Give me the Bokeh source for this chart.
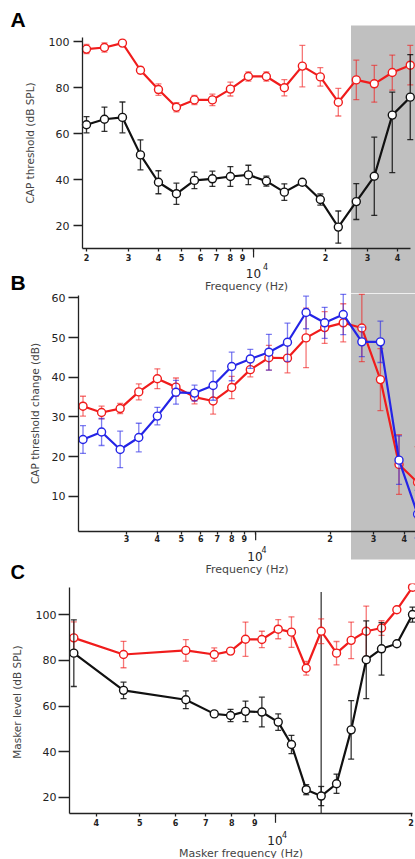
from bokeh.plotting import figure
from bokeh.models import Range1d, FixedTicker, BoxAnnotation, Label
from bokeh.layouts import column
from bokeh.embed import file_html
from bokeh.resources import INLINE

# ---------------- data ----------------
# Panels A and B: probe frequency (Hz)
freq_ab = [2000, 2378, 2828, 3364, 4000, 4757, 5657, 6727, 8000, 9514,
           11314, 13454, 16000, 19027, 22627, 26909, 32000, 38055, 45255]
# A: CAP threshold (dB SPL)
a_exposed = [96.7, 97.4, 99.3, 87.5, 79.1, 71.4, 74.6, 74.6, 79.3, 84.8,
             84.8, 79.9, 89.3, 84.6, 73.6, 83.3, 81.6, 86.5, 89.7]
a_exposed_err = [2, 2, 1, 1.5, 2.5, 2, 2, 2.5, 3, 2,
                 2, 3.5, 9, 4, 6, 8.6, 8, 7.6, 8.6]
a_control = [63.8, 66.2, 67.0, 50.7, 38.8, 33.8, 39.6, 40.3, 41.3, 42.0,
             39.3, 34.5, 38.8, 31.3, 19.3, 30.4, 41.4, 68.0, 75.8]
a_control_err_up = [3.5, 5.3, 6.7, 6.5, 5, 4.6, 3.6, 3.3, 4.3, 4.2,
                    2.2, 3.6, 1, 2.4, 7, 7.8, 17, 10, 18.5]
a_control_err_down = [3.5, 5.3, 6.7, 6.5, 5, 4.6, 3.6, 3.3, 4.3, 4.2,
                      2.2, 3.6, 1, 2.4, 7, 7.8, 17, 25, 18.5]
# B: CAP threshold change (dB)
b_red = [32.7, 31.1, 32.1, 36.3, 39.6, 37.5, 35.0, 34.0, 37.4, 41.9,
         44.9, 44.8, 49.9, 52.5, 53.7, 52.4, 39.4, 18.0, 13.5]
b_red_err = [2.5, 1.6, 1.3, 2, 2.5, 2.3, 1.7, 3.3, 2.8, 1.8,
             3.1, 3.7, 7.5, 4, 4.8, 8.5, 7.8, 7.5, 9]
b_blue = [24.3, 26.2, 21.8, 24.8, 30.2, 36.2, 36.0, 37.9, 42.7, 44.6,
          46.3, 48.8, 56.3, 53.7, 55.8, 48.9, 48.9, 19.1, 5.5]
b_blue_err = [3.5, 3.4, 4.6, 3.6, 2.2, 3, 2, 3.7, 3.6, 2.4,
              4.5, 4.8, 4.1, 3.9, 5.1, 3.7, 5.2, 6.1, 6]
# C: masker level (dB SPL) vs masker frequency (Hz)
freq_c = [3568, 4600, 6324, 7313, 7948, 8579, 9327, 10140, 10850, 11700,
          12630, 13660, 14720, 15900, 17190, 18590, 20140]
c_red = [89.9, 82.6, 84.4, 82.6, 84.1, 89.3, 89.2, 93.7, 92.4, 76.6,
         92.8, 83.2, 88.8, 92.8, 94.2, 102.2, 112.1]
c_red_err = [7, 5.8, 4.7, 2.9, 1, 7.5, 3.6, 4.2, 6.7, 3,
             5.4, 5.1, 8, 11, 3.2, 0, 0]
c_black = [83.2, 66.9, 62.8, 56.6, 55.9, 57.7, 57.4, 53.0, 43.2, 23.4,
           20.6, 26.0, 49.6, 80.3, 85.1, 87.3, 100.1]
c_black_err = [14.6, 3.6, 3.9, 0, 2.7, 4.5, 6.5, 3.6, 4, 2.2,
               4.2, 4.2, 12.8, 17, 11.5, 0, 3.3]
probe_freq = 12630
probe_top = 110

# ticks
a_xticks = [2000, 3000, 4000, 5000, 6000, 7000, 8000, 9000, 10000, 20000, 30000, 40000]
b_xticks = [3000, 4000, 5000, 6000, 7000, 8000, 9000, 10000, 20000, 30000, 40000]
c_xticks = [4000, 5000, 6000, 7000, 8000, 9000, 10000, 20000]
a_yticks = [20, 40, 60, 80, 100]
b_yticks = [10, 20, 30, 40, 50, 60]
c_yticks = [20, 40, 60, 80, 100]

# ---------------- page geometry (pixels) ----------------
W = 415
GEO = {
    "A": dict(f0=2000, fx0=86, ppd=239, v0=100, vy0=41, ppu=2.3, top=0, h=293),
    "B": dict(f0=3000, fx0=126, ppd=247, v0=60, vy0=297.3, ppu=3.97, top=293, h=290),
    "C": dict(f0=10000, fx0=275, ppd=450.6, v0=100, vy0=614.3, ppu=2.283, top=583, h=275),
}


def fx(g, px):
    return g["f0"] * 10 ** ((px - g["fx0"]) / g["ppd"])


def vy(g, py):
    return g["v0"] - (py - g["vy0"]) / g["ppu"]


RED = "#f01c1c"
BLUE = "#2424e6"
BLACK = "#111111"
GRAY = "#c0c0c0"
FONT = "DejaVu Sans"


def make_fig(g):
    p = figure(width=W, height=g["h"], x_axis_type="log",
               x_range=Range1d(fx(g, 0), fx(g, W)),
               y_range=Range1d(vy(g, g["top"] + g["h"]), vy(g, g["top"])),
               output_backend="svg", toolbar_location=None,
               min_border=0, min_border_left=0, min_border_right=0,
               min_border_top=0, min_border_bottom=0)
    p.title.visible = False
    p.xgrid.visible = False
    p.ygrid.visible = False
    p.outline_line_color = None
    p.background_fill_color = "white"
    p.border_fill_color = "white"
    return p


def xlabel_map(ticks):
    return {t: ("" if t == 10000 else str(t)[0]) for t in ticks}


def style_axes(p, g, xticks, yticks, ylabel, xlabel, x_axis_py, y_axis_px, x_end_px, y_top_py,
               ystand, xstand, ytick_out, ylab_std, xlab_std=2):
    for ax in (p.xaxis[0], p.yaxis[0]):
        ax.axis_line_color = "#222222"
        ax.axis_line_width = 1.3
        ax.major_tick_line_color = "#222222"
        ax.major_tick_line_width = 1.3
        ax.minor_tick_line_color = None
        ax.major_tick_in = 0
    xa = p.xaxis[0]
    xa.fixed_location = vy(g, x_axis_py)
    xa.bounds = (fx(g, y_axis_px), fx(g, x_end_px))
    xa.ticker = FixedTicker(ticks=xticks)
    xa.major_label_overrides = xlabel_map(xticks)
    xa.major_tick_out = 3
    xa.major_label_standoff = xlab_std
    xa.major_label_text_font = FONT
    xa.major_label_text_font_size = "8px"
    xa.major_label_text_font_style = "bold"
    xa.major_label_text_color = "#222222"
    xa.axis_label = xlabel
    xa.axis_label_text_font = FONT
    xa.axis_label_text_font_size = "11px"
    xa.axis_label_text_font_style = "normal"
    xa.axis_label_standoff = xstand
    ya = p.yaxis[0]
    ya.fixed_location = fx(g, y_axis_px)
    ya.bounds = (vy(g, x_axis_py), vy(g, y_top_py))
    ya.ticker = FixedTicker(ticks=yticks)
    ya.major_tick_out = ytick_out
    ya.major_label_standoff = ylab_std
    ya.major_label_text_font = FONT
    ya.major_label_text_font_size = "11px"
    ya.major_label_text_color = "#222222"
    ya.axis_label = ylabel
    ya.axis_label_text_font = FONT
    ya.axis_label_text_font_size = "10.5px"
    ya.axis_label_text_font_style = "normal"
    ya.axis_label_standoff = ystand


def errbars(p, x, y, e_up, e_down, color, alpha):
    lo = [v - d for v, d in zip(y, e_down)]
    hi = [v + d for v, d in zip(y, e_up)]
    p.segment(x0=x, y0=lo, x1=x, y1=hi, line_color=color, line_alpha=alpha, line_width=1.3)
    p.scatter(x, hi, marker="dash", size=6, line_color=color, line_alpha=alpha, line_width=1.3)
    p.scatter(x, lo, marker="dash", size=6, line_color=color, line_alpha=alpha, line_width=1.3)


def series(p, x, y, color):
    p.line(x, y, line_color=color, line_width=2.2)
    p.scatter(x, y, marker="circle", size=8, fill_color="white", line_color=color, line_width=1.4)


def decade_label(p, g, axis_py, px10, mid10, px4, mid4):
    p.segment(x0=[10000], y0=[vy(g, axis_py + 2)], x1=[10000], y1=[vy(g, axis_py + 9)],
              line_color="#222222", line_width=1.2)
    p.add_layout(Label(x=fx(g, px10), y=vy(g, mid10), text="10", text_align="center",
                       text_baseline="middle", text_font=FONT, text_font_size="12px",
                       text_color="#222222"))
    p.add_layout(Label(x=fx(g, px4), y=vy(g, mid4), text="4", text_align="center",
                       text_baseline="middle", text_font=FONT, text_font_size="8px",
                       text_color="#222222"))


def panel_letter(p, g, txt, px, mid, size="21px"):
    p.add_layout(Label(x=fx(g, px), y=vy(g, mid), text=txt, text_align="left",
                       text_baseline="middle", text_font="Liberation Sans",
                       text_font_size=size, text_font_style="bold", text_color="black"))


# ---------------- Panel A ----------------
gA = GEO["A"]
pA = make_fig(gA)
pA.add_layout(BoxAnnotation(left=fx(gA, 350.5), top=vy(gA, 25), fill_color=GRAY, fill_alpha=1.0,
                            line_color=None, level="underlay"))
style_axes(pA, gA, a_xticks, a_yticks, "CAP threshold (dB SPL)", "Frequency (Hz)",
           x_axis_py=248, y_axis_px=82, x_end_px=410, y_top_py=37,
           ystand=10, xstand=16, ytick_out=9, ylab_std=4)
errbars(pA, freq_ab, a_exposed, a_exposed_err, a_exposed_err, RED, 0.6)
series(pA, freq_ab, a_exposed, RED)
errbars(pA, freq_ab, a_control, a_control_err_up, a_control_err_down, BLACK, 0.85)
series(pA, freq_ab, a_control, BLACK)
decade_label(pA, gA, 248, 253, 272.5, 265, 265.5)
panel_letter(pA, gA, "A", 10, 18.5)
panel_letter(pA, gA, "B", 10, 282)

# ---------------- Panel B ----------------
gB = GEO["B"]
pB = make_fig(gB)
pB.add_layout(BoxAnnotation(left=fx(gB, 350.5), bottom=vy(gB, 559), fill_color=GRAY, fill_alpha=1.0,
                            line_color=None, level="underlay"))
style_axes(pB, gB, b_xticks, b_yticks, "CAP threshold change (dB)", "Frequency (Hz)",
           x_axis_py=530.7, y_axis_px=78, x_end_px=415, y_top_py=295,
           ystand=8, xstand=17, ytick_out=10, ylab_std=3, xlab_std=1)
errbars(pB, freq_ab, b_red, b_red_err, b_red_err, RED, 0.6)
series(pB, freq_ab, b_red, RED)
errbars(pB, freq_ab, b_blue, b_blue_err, b_blue_err, BLUE, 0.6)
series(pB, freq_ab, b_blue, BLUE)
decade_label(pB, gB, 530.7, 254.5, 556, 263.5, 548.5)
panel_letter(pB, gB, "C", 10, 571, size="20px")

# ---------------- Panel C ----------------
gC = GEO["C"]
pC = make_fig(gC)
style_axes(pC, gC, c_xticks, c_yticks, "Masker level  (dB SPL)", "Masker frequency (Hz)",
           x_axis_py=813.3, y_axis_px=69, x_end_px=411.7, y_top_py=587,
           ystand=10, xstand=18, ytick_out=11, ylab_std=2)
pC.segment(x0=[probe_freq], y0=[vy(gC, 813.3)], x1=[probe_freq], y1=[probe_top],
           line_color="#555555", line_width=1.5)
errbars(pC, freq_c, c_red, c_red_err, c_red_err, RED, 0.6)
series(pC, freq_c, c_red, RED)
errbars(pC, freq_c, c_black, c_black_err, c_black_err, BLACK, 0.85)
series(pC, freq_c, c_black, BLACK)
decade_label(pC, gC, 813.3, 274.5, 839.5, 284, 833.5)

layout = column(pA, pB, pC, spacing=0)
open("out.html", "w").write(file_html(layout, INLINE))
